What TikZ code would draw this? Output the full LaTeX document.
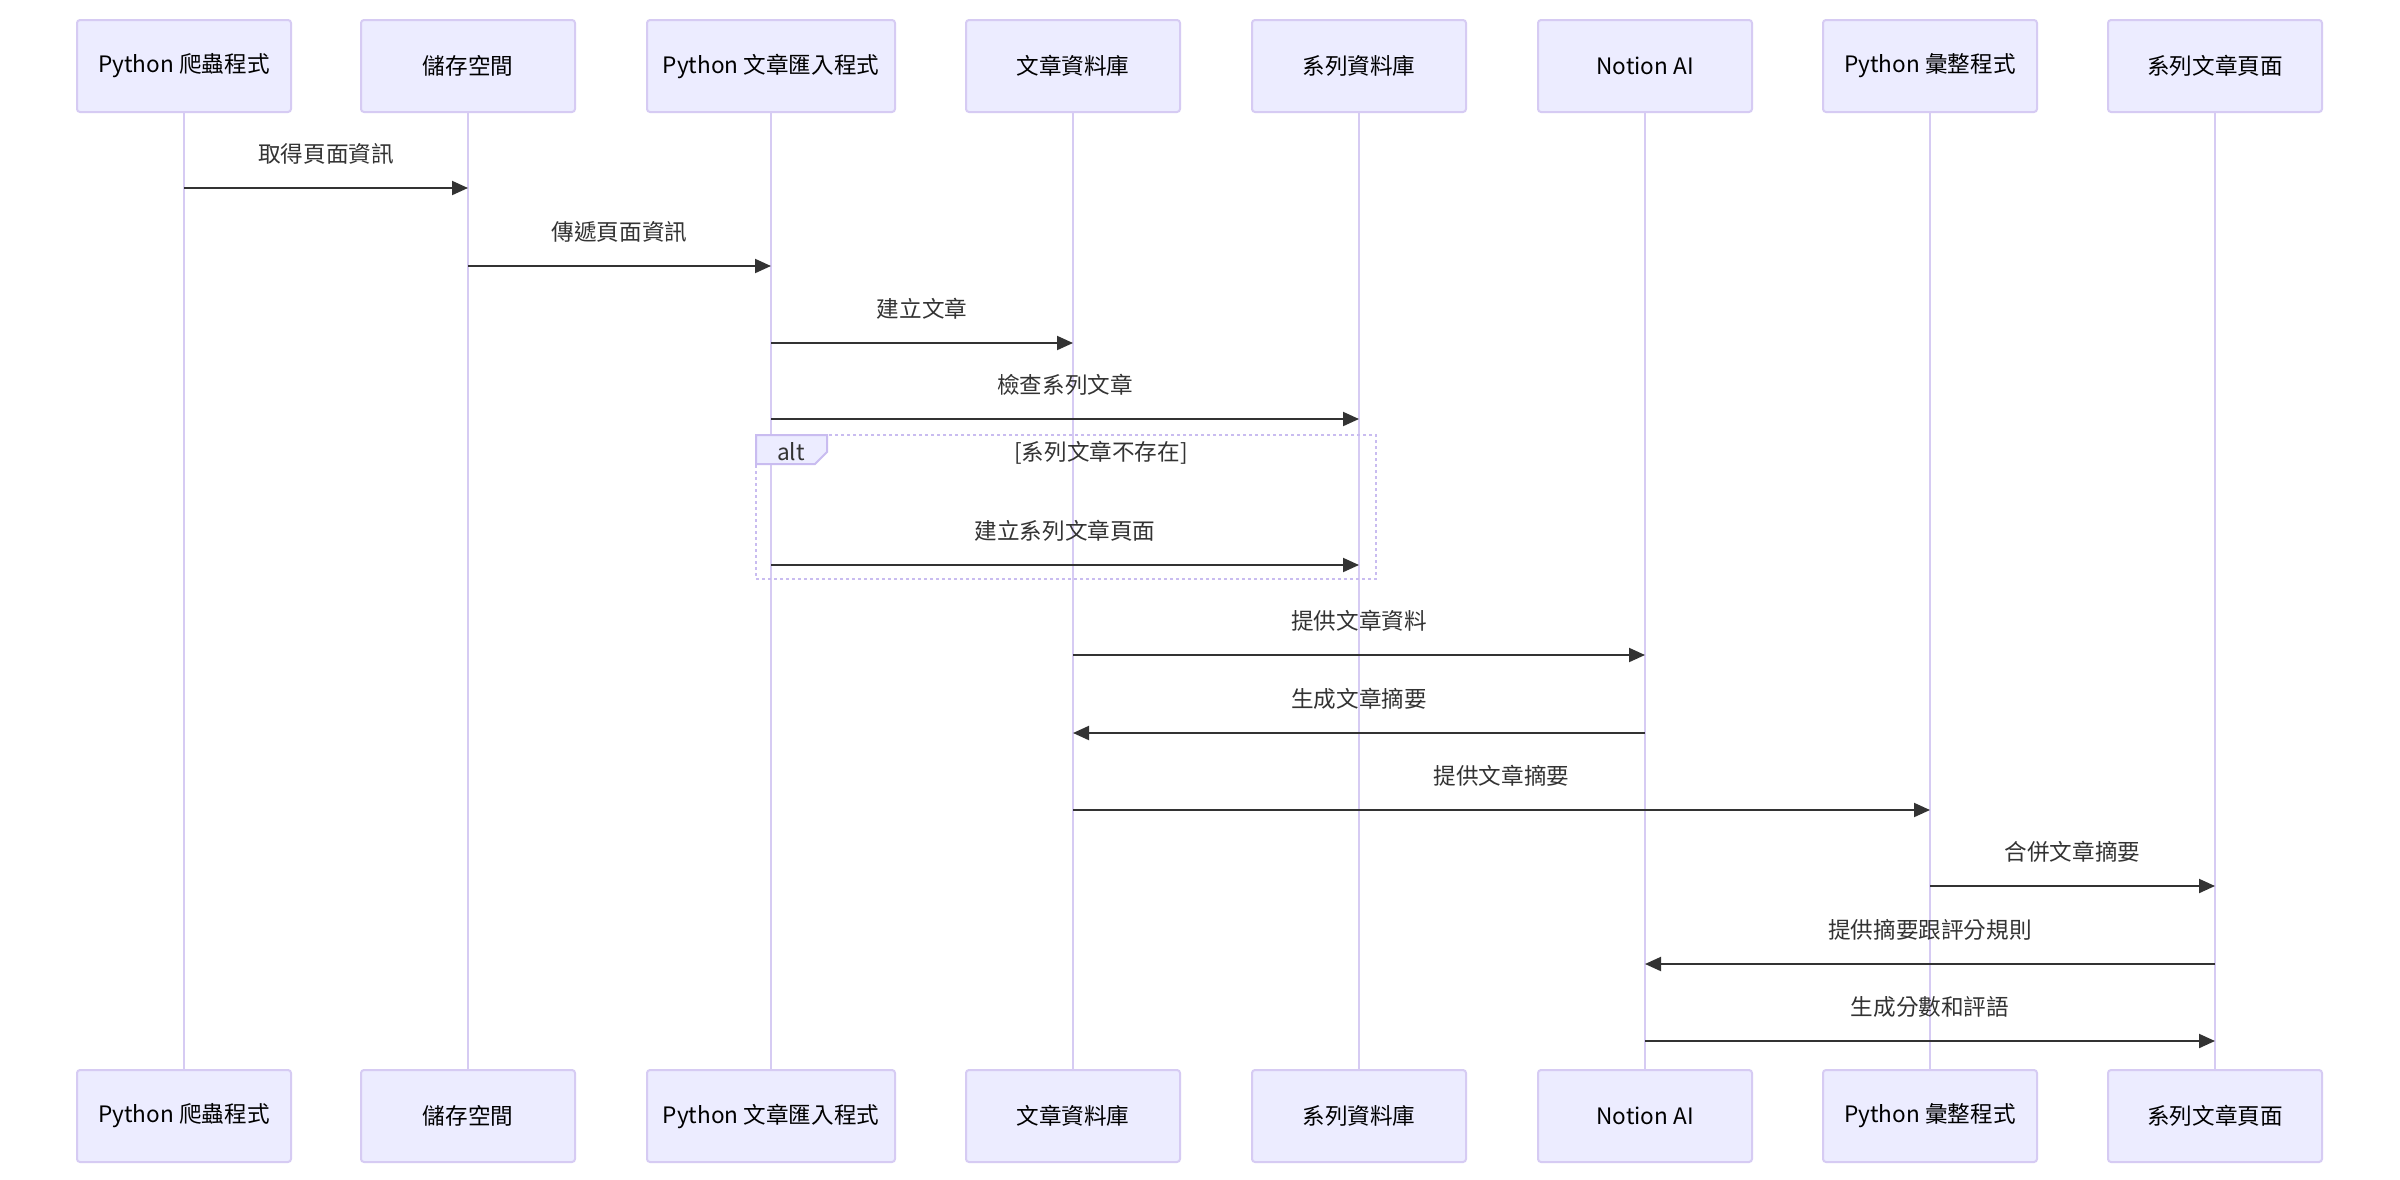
\documentclass[tikz,border=0pt]{standalone}
\usepackage{fontspec}
\setmainfont{Noto Sans CJK TC}
\usetikzlibrary{arrows.meta}
\definecolor{actfill}{HTML}{ECECFF}
\definecolor{actline}{HTML}{D6CBF3}
\definecolor{altline}{HTML}{C9BCF0}
\definecolor{txt}{HTML}{333333}
\begin{document}
\begin{tikzpicture}[x=0.5pt,y=-0.5pt,
  actor/.style={draw=actline, line width=1pt, fill=actfill, rounded corners=1.5pt,
    minimum width=107pt, minimum height=46pt, inner sep=0pt,
    font=\fontsize{11.3}{13}\selectfont, text=black},
  life/.style={draw=actline, line width=1.3pt},
  msg/.style={draw=txt, line width=1pt, -{Triangle[length=8pt,width=7pt]}},
  lbl/.style={font=\fontsize{11.3}{13}\selectfont, text=txt, inner sep=0pt},
  altbox/.style={draw=altline, line width=1pt, dash pattern=on 1.5pt off 1.5pt}]
\useasboundingbox (0,0) rectangle (2400,1179);
\fill[white] (0,0) rectangle (2400,1179);
% actors
\foreach \n/\x/\w/\t in {a/184/107/Python 爬蟲程式, b/468/107/儲存空間, c/771/124/Python 文章匯入程式, d/1073/107/文章資料庫, e/1359/107/系列資料庫, f/1645/107/Notion AI, g/1930/107/Python 彙整程式, h/2215/107/系列文章頁面}{
  \node[actor, minimum width=\w pt] (\n) at (\x,66) {\t};
  \node[actor, minimum width=\w pt] (\n b) at (\x,1116) {\t};
  \draw[life] (\n.south) -- (\n b.north);
}
% alt frame
\draw[altbox] (756,435) rectangle (1376,579);
\filldraw[fill=actfill, draw=altline, line width=1pt] (756,435) -- (827,435) -- (827,452) -- (815,464) -- (756,464) -- cycle;
\node[lbl] (altlbl) at (791,452) {alt};
\node[lbl] (cond) at (1101,453) {[系列文章不存在]};
% messages
\foreach \s/\t/\y/\l in {a/b/188/取得頁面資訊, b/c/266/傳遞頁面資訊, c/d/343/建立文章, c/e/419/檢查系列文章, c/e/565/建立系列文章頁面, d/f/655/提供文章資料, f/d/733/生成文章摘要, d/g/810/提供文章摘要, g/h/886/合併文章摘要, h/f/964/提供摘要跟評分規則, f/h/1041/生成分數和評語}{
  \draw[msg] (\s|-0,\y) -- (\t|-0,\y) node[lbl, midway, above=11.5pt] {\l};
}
\end{tikzpicture}
\end{document}
